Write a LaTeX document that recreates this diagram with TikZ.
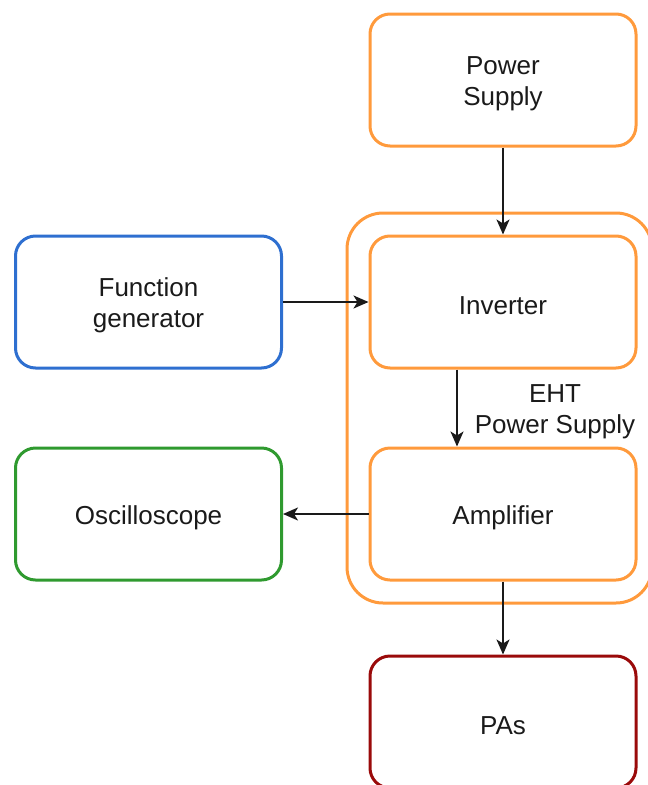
\documentclass[tikz,border=0pt]{standalone}
\usepackage{fontspec}
\setmainfont{Liberation Sans}
\usetikzlibrary{arrows.meta}
\definecolor{cOrange}{HTML}{FF9A3C}
\definecolor{cBlue}{HTML}{2E6FD0}
\definecolor{cGreen}{HTML}{2F9A2F}
\definecolor{cRed}{HTML}{9A0A0A}
\definecolor{cText}{HTML}{1A1A1A}
\tikzset{
  box/.style={draw, rounded corners=20pt, line width=3pt, minimum width=266pt, minimum height=132pt, inner sep=0pt},
  boxtext/.style={align=center, font=\fontsize{26}{31}\selectfont, text=cText, inner sep=0pt},
  conn/.style={line width=2pt, draw=cText, -{Stealth[length=15pt,width=13pt,inset=4pt]}},
}
\begin{document}
\begin{tikzpicture}[x=1pt,y=-1pt]
\useasboundingbox (0,0) rectangle (648,785);
\clip (0,0) rectangle (648,785);
\draw[cOrange, line width=3pt, rounded corners=36pt] (347,213) rectangle (652,603);
\node[box, draw=cOrange] (ps) at (503,80) {};
\node[box, draw=cOrange] (inv) at (503,302) {};
\node[box, draw=cBlue] (fg) at (148.5,302) {};
\node[box, draw=cOrange] (amp) at (503,514) {};
\node[box, draw=cGreen] (osc) at (148.5,514) {};
\node[box, draw=cRed] (pas) at (503,722) {};
\node[boxtext] (pst) at ([yshift=-3.5pt]ps.center) {Power\\Supply};
\node[boxtext] (invt) at ([yshift=-3.5pt]inv.center) {Inverter};
\node[boxtext] (fgt) at ([yshift=-3.5pt]fg.center) {Function\\generator};
\node[boxtext] (ampt) at ([yshift=-3.5pt]amp.center) {Amplifier};
\node[boxtext] (osct) at ([yshift=-3.5pt]osc.center) {Oscilloscope};
\node[boxtext] (past) at ([yshift=-3.5pt]pas.center) {PAs};
\node[boxtext] (eht) at (555,412) {EHT\\Power Supply};
\draw[conn] (ps.south) -- (inv.north);
\draw[conn] (fg.east) -- (inv.west);
\draw[conn] ([xshift=-46pt]inv.south) -- ([xshift=-46pt]amp.north);
\draw[conn] (amp.west) -- (osc.east);
\draw[conn] (amp.south) -- (pas.north);
\end{tikzpicture}
\end{document}
